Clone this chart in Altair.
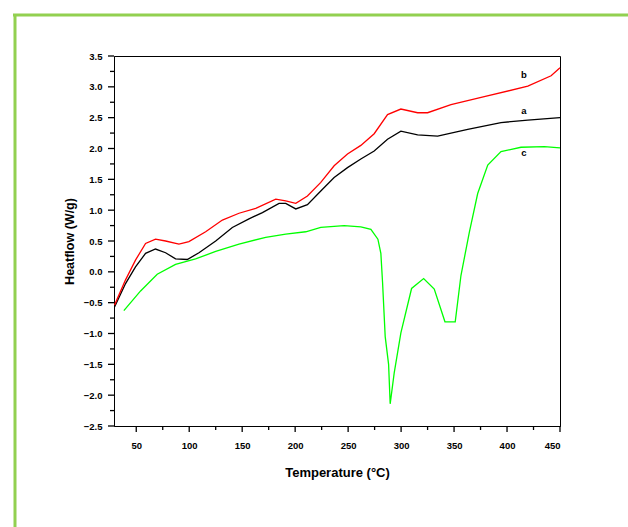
import altair as alt
import pandas as pd

# Curve a (black)
a_T = [29.5, 39.9, 49.3, 58.8, 68.2, 77.7, 87.1, 98.2, 109.2, 125.0, 140.7, 156.4, 169.1, 184.8,
       191.1, 200.6, 211.6, 224.2, 236.8, 249.4, 262.0, 274.6, 287.2, 299.8, 315.6, 334.5,
       362.9, 394.3, 419.6, 450.0]
a_H = [-0.57, -0.19, 0.08, 0.30, 0.37, 0.31, 0.21, 0.20, 0.31, 0.50, 0.72, 0.86, 0.96, 1.11,
       1.11, 1.02, 1.09, 1.31, 1.53, 1.69, 1.83, 1.96, 2.15, 2.28, 2.22, 2.20,
       2.31, 2.42, 2.46, 2.50]

# Curve b (red)
b_T = [29.5, 39.9, 49.3, 58.8, 68.2, 77.7, 90.3, 99.7, 115.5, 131.3, 147.0, 162.8, 181.7,
       191.1, 200.6, 211.6, 224.2, 236.8, 249.4, 262.0, 274.6, 287.2, 299.8, 315.6, 325.0,
       347.1, 378.5, 419.6, 441.6, 450.0]
b_H = [-0.54, -0.13, 0.19, 0.46, 0.53, 0.50, 0.45, 0.49, 0.65, 0.84, 0.95, 1.03, 1.18,
       1.15, 1.11, 1.23, 1.45, 1.72, 1.91, 2.05, 2.24, 2.55, 2.64, 2.58, 2.58,
       2.71, 2.84, 3.01, 3.18, 3.31]

# Curve c (green)
c_T = [38.3, 54.1, 69.8, 87.1, 106.0, 125.0, 147.0, 172.2, 191.1, 210.0, 224.2, 246.2, 262.0,
       271.5, 278.1, 280.9, 282.5, 285.0, 288.2, 289.7, 293.5, 299.8, 309.9, 321.3, 331.3,
       341.4, 351.1, 356.5, 364.4, 372.3, 381.8, 394.3, 413.2, 435.3, 450.0]
c_H = [-0.63, -0.31, -0.04, 0.12, 0.21, 0.33, 0.45, 0.56, 0.61, 0.65, 0.72, 0.75, 0.73,
       0.69, 0.53, 0.30, -0.17, -1.05, -1.50, -2.14, -1.64, -0.99, -0.27, -0.11, -0.28,
       -0.81, -0.81, -0.06, 0.64, 1.27, 1.73, 1.95, 2.02, 2.03, 2.01]

series_names = ["a", "b", "c"]
series_colors = ["#000000", "#ff0000", "#00ff00"]

label_T = [416, 416, 416]
label_H = [2.61, 3.20, 1.93]

x_major = [50 * i for i in range(1, 10)]
x_minor = [75 + 50 * i for i in range(8)]
y_major = [-2.5 + 0.5 * i for i in range(13)]
y_minor = [-2.25 + 0.5 * i for i in range(12)]

rows = []
for name, T, H in zip(series_names, [a_T, b_T, c_T], [a_H, b_H, c_H]):
    for i, (t, h) in enumerate(zip(T, H)):
        rows.append({"series": name, "T": t, "H": h, "order": i})
df = pd.DataFrame(rows)
lab = pd.DataFrame({"series": series_names, "T": label_T, "H": label_H})

xt = pd.DataFrame({"T": x_major + x_minor, "major": [1] * len(x_major) + [0] * len(x_minor)})
yt = pd.DataFrame({"H": y_major + y_minor, "major": [1] * len(y_major) + [0] * len(y_minor)})

FONT = "Liberation Sans"

x_scale = alt.Scale(domain=[29, 450], nice=False, zero=False)
y_scale = alt.Scale(domain=[-2.5, 3.5], nice=False, zero=False)

common = dict(grid=False, domainColor="black", domainWidth=1, ticks=False, labelOverlap=False,
              labelFont=FONT, labelFontSize=9.5, labelFontWeight="bold", labelColor="black",
              titleFont=FONT, titleFontWeight="bold", titleColor="black")

x_axis = alt.Axis(values=x_major, format="d", title="Temperature (°C)",
                  labelPadding=14, titlePadding=17, titleFontSize=13, **common)
y_axis = alt.Axis(values=y_major, format=".1f", title="Heatflow (W/g)",
                  labelPadding=12, titlePadding=7, titleFontSize=12.5, **common)

X = alt.X("T:Q", scale=x_scale, axis=x_axis)
Y = alt.Y("H:Q", scale=y_scale, axis=y_axis)

lines = alt.Chart(df).mark_line(strokeWidth=1.3, interpolate="linear").encode(
    x=X, y=Y,
    color=alt.Color("series:N", scale=alt.Scale(domain=series_names, range=series_colors), legend=None),
    detail="series:N",
    order="order:Q",
)

labels = alt.Chart(lab).mark_text(font=FONT, fontSize=9.5, fontWeight="bold", color="black").encode(
    x=X, y=Y, text="series:N",
)

# tick marks: positioned by the scales, length in pixels
x_ticks_major = alt.Chart(xt).transform_filter("datum.major == 1").mark_rule(
    color="black", strokeWidth=1.3).encode(x=X, y=alt.value(370), y2=alt.value(376))
x_ticks_minor = alt.Chart(xt).transform_filter("datum.major == 0").mark_rule(
    color="black", strokeWidth=1.3).encode(x=X, y=alt.value(370), y2=alt.value(374))
y_ticks_major = alt.Chart(yt).transform_filter("datum.major == 1").mark_rule(
    color="black", strokeWidth=1.3).encode(y=Y, x=alt.value(-6), x2=alt.value(0))
y_ticks_minor = alt.Chart(yt).transform_filter("datum.major == 0").mark_rule(
    color="black", strokeWidth=1.3).encode(y=Y, x=alt.value(-4), x2=alt.value(0))

border_color = "#92d050"
top_border = alt.Chart(pd.DataFrame({"k": [0]})).mark_rule(color=border_color, strokeWidth=3).encode(
    x=alt.value(-101), x2=alt.value(520), y=alt.value(-41)
)
left_border = alt.Chart(pd.DataFrame({"k": [0]})).mark_rule(color=border_color, strokeWidth=3).encode(
    x=alt.value(-99), y=alt.value(-42), y2=alt.value(480)
)

chart = alt.layer(
    lines, labels, x_ticks_major, x_ticks_minor, y_ticks_major, y_ticks_minor, top_border, left_border
).properties(
    width=446, height=370,
    autosize=alt.AutoSizeParams(type="none"),
    padding={"left": 114, "top": 56, "right": 68, "bottom": 101},
    background="white",
).configure_view(stroke="black", strokeWidth=1)

chart.save("out.html", embed_options={"renderer": "svg", "actions": False})
